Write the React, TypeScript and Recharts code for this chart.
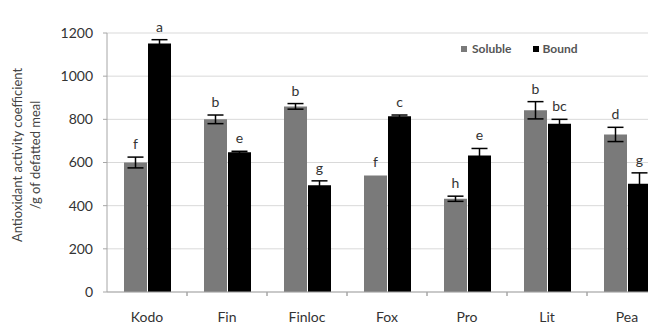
import React from "react";
import {
  BarChart,
  Bar,
  XAxis,
  YAxis,
  CartesianGrid,
  ErrorBar,
  LabelList,
  Legend,
} from "recharts";

const categories = ["Kodo", "Fin", "Finloc", "Fox", "Pro", "Lit", "Pea"];
const soluble = [600, 800, 860, 540, 432, 842, 730];
const solubleErr = [25, 20, 13, 0, 12, 40, 33];
const solubleLetters = ["f", "b", "b", "f", "h", "b", "d"];
const bound = [1151, 647, 495, 814, 632, 780, 502];
const boundErr = [18, 5, 20, 6, 33, 20, 50];
const boundLetters = ["a", "e", "g", "c", "e", "bc", "g"];
const yTicks = [0, 200, 400, 600, 800, 1000, 1200];

const data = categories.map((name, i) => ({
  name,
  soluble: soluble[i],
  solubleErr: solubleErr[i],
  solubleLetter: solubleLetters[i],
  bound: bound[i],
  boundErr: boundErr[i],
  boundLetter: boundLetters[i],
}));

const FONT = "Lato, 'Open Sans', sans-serif";

// letter above the error bar cap
const letterLabel = (errs: number[], letters: string[]) => (props: any) => {
  const { x, y, width, height, value, index } = props;
  const pxPerUnit = value ? height / value : 0;
  const top = y - (errs[index] || 0) * pxPerUnit;
  return (
    <text
      x={x + width / 2}
      y={top - 8}
      textAnchor="middle"
      fontSize={14}
      fontFamily={FONT}
      fill="#333"
    >
      {letters[index]}
    </text>
  );
};

const XTick = (props: any) => {
  const { x, y, payload, index } = props;
  const off = payload.offset ?? 40;
  return (
    <g>
      {index > 0 && (
        <line x1={x - off} y1={y} x2={x - off} y2={y + 4} stroke="#a6a6a6" />
      )}
      <line x1={x + off} y1={y} x2={x + off} y2={y + 4} stroke="#a6a6a6" />
      <text
        x={x}
        y={y + 30}
        textAnchor="middle"
        fontSize={14}
        fontFamily={FONT}
        fill="#333"
      >
        {payload.value}
      </text>
    </g>
  );
};

const YLabel = () => (
  <g fontFamily={FONT} fontSize={13} fill="#444">
    <text x={22} y={155} textAnchor="middle" transform="rotate(-90 22 155)">
      Antioxidant activity coefficient
    </text>
    <text x={40} y={155} textAnchor="middle" transform="rotate(-90 40 155)">
      /g of defatted meal
    </text>
  </g>
);

const LegendBox = () => (
  <div
    style={{
      display: "flex",
      alignItems: "center",
      fontFamily: FONT,
      fontSize: 12,
      fontWeight: 700,
      color: "#555",
    }}
  >
    <span style={{ width: 6, height: 6, background: "#7a7a7a", marginRight: 5 }} />
    <span style={{ marginRight: 22 }}>Soluble</span>
    <span style={{ width: 6, height: 6, background: "#000", marginRight: 3 }} />
    <span>Bound</span>
  </div>
);

export default function App() {
  return (
    <div
      style={{
        position: "absolute",
        left: 0,
        top: 0,
        width: 648,
        height: 326,
        overflow: "hidden",
        background: "#fff",
      }}
    >
      <BarChart
        width={700}
        height={326}
        data={data}
        margin={{ top: 18, right: 33, left: 0, bottom: 0 }}
        barGap={1}
        barSize={23}
      >
        <CartesianGrid vertical={false} stroke="#d9d9d9" />
        <XAxis
          dataKey="name"
          height={34}
          tickSize={0}
          tickMargin={0}
          tickLine={false}
          axisLine={{ stroke: "#a6a6a6" }}
          tick={<XTick />}
          interval={0}
        />
        <YAxis
          width={107}
          domain={[0, 1200]}
          ticks={yTicks}
          tickSize={4}
          tickMargin={10}
          axisLine={{ stroke: "#a6a6a6" }}
          tickLine={{ stroke: "#a6a6a6" }}
          tick={{ fill: "#333", fontSize: 14, fontFamily: FONT }}
          label={{ content: () => <YLabel /> }}
        />
        <Legend
          verticalAlign="top"
          align="left"
          wrapperStyle={{ top: 41, left: 461, width: 160 }}
          content={() => <LegendBox />}
        />
        <Bar dataKey="soluble" name="Soluble" fill="#7a7a7a" isAnimationActive={false}>
          <ErrorBar dataKey="solubleErr" width={8} stroke="#000" strokeWidth={1.5} direction="y" />
          <LabelList dataKey="soluble" content={letterLabel(solubleErr, solubleLetters)} />
        </Bar>
        <Bar dataKey="bound" name="Bound" fill="#000" isAnimationActive={false}>
          <ErrorBar dataKey="boundErr" width={8} stroke="#000" strokeWidth={1.5} direction="y" />
          <LabelList dataKey="bound" content={letterLabel(boundErr, boundLetters)} />
        </Bar>
      </BarChart>
    </div>
  );
}
